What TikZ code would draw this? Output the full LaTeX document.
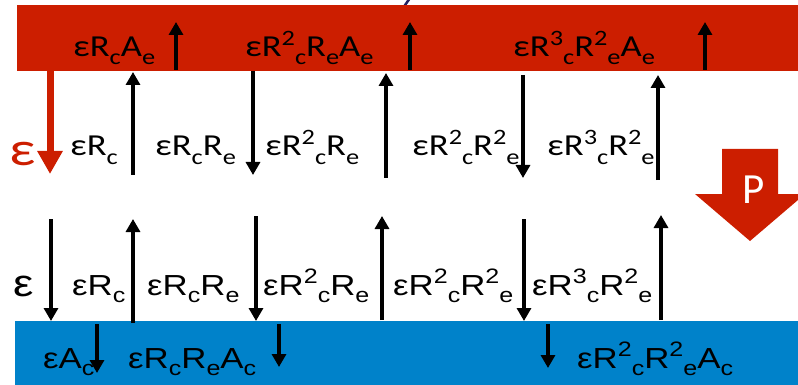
\documentclass[tikz,border=0pt]{standalone}
\usepackage{graphicx}
\usepackage{fontspec}
\usetikzlibrary{arrows.meta}
\newfontfamily\calfont[FakeStretch=1.2]{Carlito}
\newfontfamily\arifont[FakeStretch=1.2]{Liberation Sans}
\newfontfamily\pfont{Carlito}
\definecolor{barred}{RGB}{204,30,0}
\definecolor{barblue}{RGB}{0,130,202}
\definecolor{inkblue}{RGB}{32,32,96}
% lowered / raised indices written after the letter
\newcommand\lo[1]{\raisebox{-0.27em}{\scalebox{0.72}{#1}}}
\newcommand\hi[1]{\raisebox{0.38em}{\scalebox{0.72}{#1}}}
% a straight flux arrow between two named points
\newcommand\flux[5][flowarrow]{%
  \coordinate (#2a) at (#3,#4);
  \coordinate (#2b) at (#3,#5);
  \draw[#1] (#2a) -- (#2b);}
\begin{document}
\begin{tikzpicture}[x=1pt,y=-1pt,
  bar/.style={inner sep=0, anchor=north west},
  flowarrow/.style={line width=3.2pt, -{Triangle[width=14pt,length=13pt]}},
  redarrow/.style={barred, line width=7pt, -{Triangle[width=24pt,length=23pt]}},
  callabel/.style={font=\calfont\fontsize{30.5}{32}\selectfont, anchor=base west, inner sep=0},
  arilabel/.style={font=\arifont\fontsize{29}{31}\selectfont, anchor=base west, inner sep=0}]
\useasboundingbox (0,0) rectangle (798,385);

% small stroke above the top bar
\draw[inkblue, line width=2.5pt] (403,8) -- (410,-2);

% emitter (top) and collector (bottom) bands
\node[bar, fill=barred, minimum width=781pt, minimum height=66pt] (topbar) at (17,5) {};
\node[bar, fill=barblue, minimum width=783pt, minimum height=64pt] (botbar) at (15,321) {};

% labels inside the top band
\node[callabel] (t1) at (73,56.7) {εR\lo{c}A\lo{e}};
\node[callabel] (t2) at (245,56.7) {εR\hi{2}\lo{c}R\lo{e}A\lo{e}};
\node[callabel] (t3) at (513,56.7) {εR\hi{3}\lo{c}R\hi{2}\lo{e}A\lo{e}};

% arrows inside the top band
\flux{ta}{176}{70}{22}
\flux{tb}{410}{70}{22}
\flux{tc}{705}{70}{22}

% incoming red arrow and its label
\flux[redarrow]{ra}{50}{71}{174}
\node[font=\calfont\fontsize{48}{50}\selectfont, text=barred, anchor=base west, inner sep=0] (reps) at (9,165) {ε};

% upper row of labels and arrows
\node[callabel] (u1) at (70,156) {εR\lo{c}};
\node[callabel] (u2) at (155,156) {εR\lo{c}R\lo{e}};
\node[callabel] (u3) at (265,156) {εR\hi{2}\lo{c}R\lo{e}};
\node[callabel] (u4) at (412,156) {εR\hi{2}\lo{c}R\hi{2}\lo{e}};
\node[callabel] (u5) at (547,156) {εR\hi{3}\lo{c}R\hi{2}\lo{e}};
\flux{ua}{133}{175}{72}
\flux{ub}{253}{71}{175}
\flux{uc}{386}{178}{73}
\flux{ud}{523}{75}{178}
\flux{ue}{658}{180}{75}

% P arrow
\fill[barred] (722,149) -- (778,149) -- (778,194) -- (805,194) -- (750,241)
  -- (695,194) -- (722,194) -- cycle;
\node[font=\pfont\fontsize{43}{45}\selectfont, text=white, anchor=base, inner sep=0] (plabel) at (754,203) {P};

% lower row of labels and arrows
\node[font=\arifont\fontsize{38}{40}\selectfont, anchor=base west, inner sep=0] (beps) at (13,296) {ε};
\node[arilabel] (l1) at (72,295) {εR\lo{c}};
\node[arilabel] (l2) at (147,295) {εR\lo{c}R\lo{e}};
\node[arilabel] (l3) at (263,295) {εR\hi{2}\lo{c}R\lo{e}};
\node[arilabel] (l4) at (393,295) {εR\hi{2}\lo{c}R\hi{2}\lo{e}};
\node[arilabel] (l5) at (532,295) {εR\hi{3}\lo{c}R\hi{2}\lo{e}};
\flux{la}{51}{219}{321}
\flux{lb}{133}{323}{219}
\flux{lc}{256}{216}{321}
\flux{ld}{382}{320}{216}
\flux{le}{524}{219}{321}
\flux{lf}{661}{320}{215}

% labels and arrows inside the bottom band
\node[arilabel] (b1) at (43,368) {εA\lo{c}};
\node[arilabel] (b2) at (128,368) {εR\lo{c}R\lo{e}A\lo{c}};
\node[arilabel] (b3) at (577,368) {εR\hi{2}\lo{c}R\hi{2}\lo{e}A\lo{c}};
\flux{ba}{97}{324}{373}
\flux{bb}{279}{324}{367}
\flux{bc}{548}{324}{368}
\end{tikzpicture}
\end{document}
